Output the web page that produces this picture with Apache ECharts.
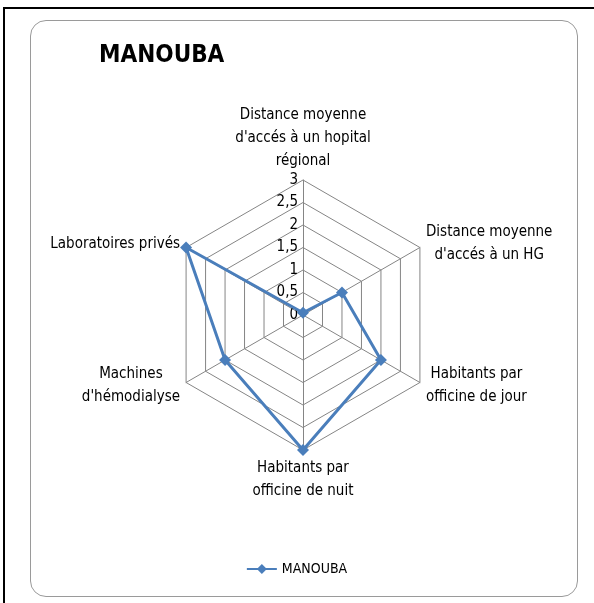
<!DOCTYPE html>
<html>
<head>
<meta charset="utf-8">
<script src="https://cdn.jsdelivr.net/npm/echarts@6/dist/echarts.min.js"></script>
<style>
  html, body { margin: 0; padding: 0; background: #fff; }
  #outer {
    position: absolute; left: 3px; top: 7px; width: 600px; height: 600px;
    border-top: 2px solid #000; border-left: 2px solid #000;
  }
  #box {
    position: absolute; left: 30px; top: 20px; width: 546px; height: 575px;
    border: 1.5px solid #9a9a9a; border-radius: 16px;
  }
  #chart { position: absolute; left: 0; top: 0; width: 594px; height: 603px; }
</style>
</head>
<body>
<div id="outer"></div>
<div id="box"></div>
<div id="chart"></div>
<script>
const chartTitle = "MANOUBA";
const seriesName = "MANOUBA";
// clockwise from the top, as in the original sheet
const indicatorNames = [
  "Distance moyenne\nd'accés à un hopital\nrégional",
  "Distance moyenne\nd'accés à un HG",
  "Habitants par\nofficine de jour",
  "Habitants par\nofficine de nuit",
  "Machines\nd'hémodialyse",
  "Laboratoires privés",
];
const seriesValues = [0.05, 1, 2, 3, 2, 3];
const axisMax = 3;
const axisSteps = 6;

const font = "'Liberation Sans Narrow', 'DejaVu Sans Condensed', sans-serif";
const lineBlue = "#4a7ebb";
const gridGray = "#858585";

// echarts places indicators counter-clockwise, so keep the first and flip the rest
const order = [0, ...indicatorNames.map((_, i) => i).slice(1).reverse()];

const indicators = order.map((i, k) => {
  const ind = { name: indicatorNames[i], max: axisMax, min: 0 };
  if (k === 0) {
    ind.axisLabel = {
      show: true,
      color: "#000",
      fontFamily: font,
      fontSize: 15,
      margin: 5,
      formatter: (v) => String(v).replace(".", ","),
    };
  }
  return ind;
});

const chart = echarts.init(document.getElementById("chart"));
chart.setOption({
  animation: false,
  title: {
    text: chartTitle,
    left: 99,
    top: 44,
    padding: 0,
    textStyle: { fontFamily: font, fontSize: 24, fontWeight: "bold", color: "#000" },
  },
  legend: {
    bottom: 22,
    left: "center",
    itemWidth: 30,
    itemHeight: 10,
    itemGap: 4,
    icon: "path://M0,4 L11,4 L15,0 L19,4 L30,4 L30,6 L19,6 L15,10 L11,6 L0,6 Z",
    textStyle: { fontFamily: font, fontSize: 14, color: "#000" },
    data: [seriesName],
  },
  radar: {
    center: [303, 315],
    radius: 135,
    startAngle: 90,
    splitNumber: axisSteps,
    shape: "polygon",
    nameGap: 7,
    axisName: {
      color: "#000",
      formatter: (name) => name.split("\n").map((l) => `{c|${l}}`).join("\n"),
      rich: {
        c: { align: "center", color: "#000", fontFamily: font, fontSize: 15, lineHeight: 23 },
      },
    },
    axisLine: { lineStyle: { color: gridGray, width: 1 } },
    splitLine: { lineStyle: { color: gridGray, width: 1 } },
    splitArea: { show: false },
    axisTick: { show: false },
    axisLabel: { show: false },
    indicator: indicators,
  },
  series: [
    {
      name: seriesName,
      type: "radar",
      symbol: "diamond",
      symbolSize: 12,
      lineStyle: { color: lineBlue, width: 3 },
      itemStyle: { color: lineBlue },
      data: [{ name: seriesName, value: order.map((i) => seriesValues[i]) }],
    },
  ],
});
</script>
</body>
</html>
